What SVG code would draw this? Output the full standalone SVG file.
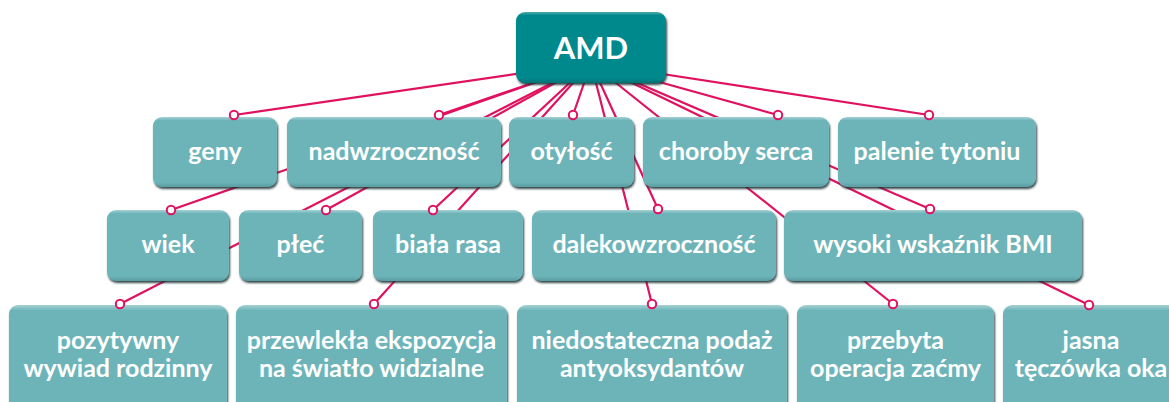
<svg xmlns="http://www.w3.org/2000/svg" width="1169" height="402" viewBox="0 0 1169 402">
<defs>
<linearGradient id="gLight" x1="0" y1="0" x2="0" y2="1">
<stop offset="0" stop-color="#a6d2d5"/>
<stop offset="0.05" stop-color="#6db4b9"/>
<stop offset="0.93" stop-color="#6db4b9"/>
<stop offset="1" stop-color="#5a9ca1"/>
</linearGradient>
<linearGradient id="gDark" x1="0" y1="0" x2="0" y2="1">
<stop offset="0" stop-color="#4fa9ad"/>
<stop offset="0.05" stop-color="#00898d"/>
<stop offset="0.93" stop-color="#00898d"/>
<stop offset="1" stop-color="#007377"/>
</linearGradient>
<filter id="sh" x="-5%" y="-5%" width="112%" height="120%">
<feDropShadow dx="1" dy="2" stdDeviation="0.9" flood-color="#1f3637" flood-opacity="0.9"/>
</filter>
</defs>
<style>
.box{fill:url(#gLight);filter:url(#sh)}
.root{fill:url(#gDark);filter:url(#sh)}
.t{font-family:Lato,"Open Sans","DejaVu Sans",sans-serif;font-weight:bold;fill:#ffffff;text-anchor:middle;font-size:25px}
.tr{font-size:31px}
.c line{stroke:#e0115f;stroke-width:2.2}
.dot{fill:#ffffff;stroke:#e0115f;stroke-width:2}
</style>
<rect width="1169" height="402" fill="#ffffff"/>
<g id="connectors" class="c">
<line x1="591" y1="63" x2="234" y2="115"/>
<line x1="591" y1="63" x2="439" y2="115"/>
<line x1="591" y1="63" x2="573" y2="115"/>
<line x1="591" y1="63" x2="778" y2="115"/>
<line x1="591" y1="63" x2="929" y2="115"/>
<line x1="591" y1="63" x2="171" y2="210"/>
<line x1="591" y1="63" x2="326" y2="210"/>
<line x1="591" y1="63" x2="433" y2="210"/>
<line x1="591" y1="63" x2="658" y2="209"/>
<line x1="591" y1="63" x2="930" y2="209"/>
<line x1="591" y1="63" x2="120" y2="304"/>
<line x1="591" y1="63" x2="374" y2="304"/>
<line x1="591" y1="63" x2="652" y2="304"/>
<line x1="591" y1="63" x2="893" y2="304"/>
<line x1="591" y1="63" x2="1089" y2="305"/>
</g>
<g id="amd"><rect class="root" x="516" y="12" width="150" height="71" rx="9"/><text class="t tr" x="591" y="59">AMD</text></g>
<g id="geny"><rect class="box" x="153" y="117" width="124" height="70" rx="9"/><text class="t" x="215" y="160">geny</text></g>
<g id="nadwzrocznosc"><rect class="box" x="287" y="117" width="214" height="70" rx="9"/><text class="t" x="394" y="160">nadwzroczność</text></g>
<g id="otylosc"><rect class="box" x="509" y="117" width="125" height="70" rx="9"/><text class="t" x="571.5" y="160">otyłość</text></g>
<g id="choroby"><rect class="box" x="643" y="117" width="186" height="70" rx="9"/><text class="t" x="736" y="160">choroby serca</text></g>
<g id="palenie"><rect class="box" x="838" y="117" width="198" height="70" rx="9"/><text class="t" x="937" y="160">palenie tytoniu</text></g>
<g id="wiek"><rect class="box" x="107" y="210" width="122" height="71" rx="9"/><text class="t" x="168" y="253">wiek</text></g>
<g id="plec"><rect class="box" x="239" y="210" width="123" height="71" rx="9"/><text class="t" x="300.5" y="253">płeć</text></g>
<g id="biala"><rect class="box" x="373" y="210" width="150" height="71" rx="9"/><text class="t" x="448" y="253">biała rasa</text></g>
<g id="dalekowzrocznosc"><rect class="box" x="532" y="210" width="244" height="71" rx="9"/><text class="t" x="654" y="253">dalekowzroczność</text></g>
<g id="bmi"><rect class="box" x="784" y="210" width="298" height="71" rx="9"/><text class="t" x="933" y="253">wysoki wskaźnik BMI</text></g>
<g id="pozytywny"><rect class="box" x="9" y="305" width="218" height="110" rx="9"/><text class="t" x="118" y="349">pozytywny</text><text class="t" x="118" y="377">wywiad rodzinny</text></g>
<g id="przewlekla"><rect class="box" x="236" y="305" width="271" height="110" rx="9"/><text class="t" x="371.5" y="349">przewlekła ekspozycja</text><text class="t" x="371.5" y="377">na światło widzialne</text></g>
<g id="niedostateczna"><rect class="box" x="517" y="305" width="270" height="110" rx="9"/><text class="t" x="652" y="349">niedostateczna podaż</text><text class="t" x="652" y="377">antyoksydantów</text></g>
<g id="przebyta"><rect class="box" x="797" y="305" width="197" height="110" rx="9"/><text class="t" x="895.5" y="349">przebyta</text><text class="t" x="895.5" y="377">operacja zaćmy</text></g>
<g id="jasna"><rect class="box" x="1003" y="305" width="177" height="110" rx="9"/><text class="t" x="1091" y="349">jasna</text><text class="t" x="1091" y="377">tęczówka oka</text></g>
<g id="dots">
<circle class="dot" cx="234" cy="115" r="4.2"/>
<circle class="dot" cx="439" cy="115" r="4.2"/>
<circle class="dot" cx="573" cy="115" r="4.2"/>
<circle class="dot" cx="778" cy="115" r="4.2"/>
<circle class="dot" cx="929" cy="115" r="4.2"/>
<circle class="dot" cx="171" cy="210" r="4.2"/>
<circle class="dot" cx="326" cy="210" r="4.2"/>
<circle class="dot" cx="433" cy="210" r="4.2"/>
<circle class="dot" cx="658" cy="209" r="4.2"/>
<circle class="dot" cx="930" cy="209" r="4.2"/>
<circle class="dot" cx="120" cy="304" r="4.2"/>
<circle class="dot" cx="374" cy="304" r="4.2"/>
<circle class="dot" cx="652" cy="304" r="4.2"/>
<circle class="dot" cx="893" cy="304" r="4.2"/>
<circle class="dot" cx="1089" cy="305" r="4.2"/>
</g>
</svg>
